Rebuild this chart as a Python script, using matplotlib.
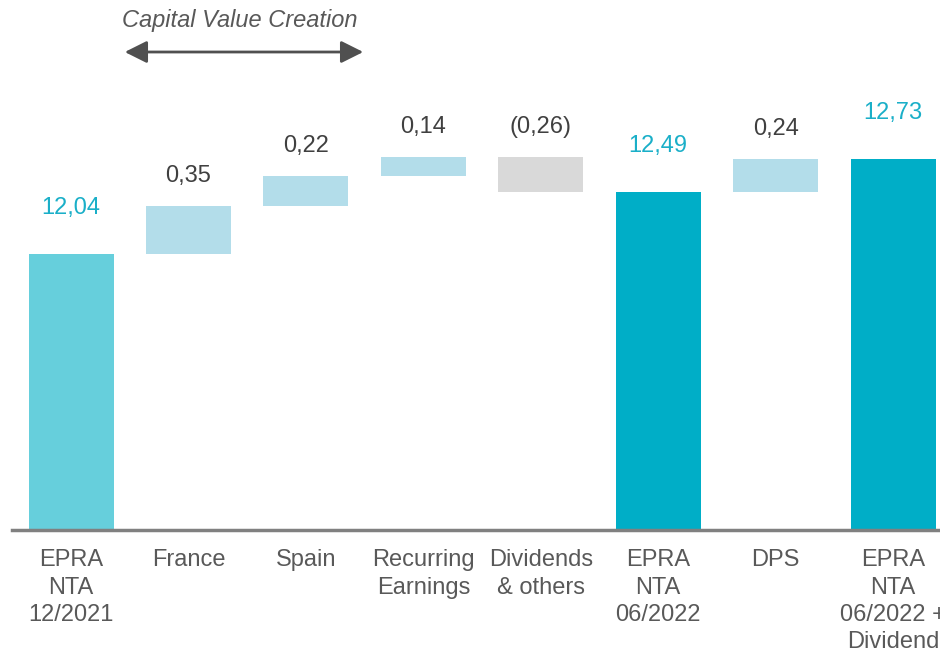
import matplotlib
matplotlib.use("Agg")
import matplotlib.pyplot as plt

plt.rcParams['font.family'] = ['Liberation Sans', 'DejaVu Sans']

categories = ["EPRA\nNTA\n12/2021", "France", "Spain", "Recurring\nEarnings",
              "Dividends\n& others", "EPRA\nNTA\n06/2022", "DPS",
              "EPRA\nNTA\n06/2022 +\nDividend"]
values = [12.04, 0.35, 0.22, 0.14, -0.26, 12.49, 0.24, 12.73]
kinds = ["total", "delta", "delta", "delta", "delta", "total", "delta", "total"]
value_labels = ["12,04", "0,35", "0,22", "0,14", "(0,26)", "12,49", "0,24", "12,73"]
bar_colors = ["#66CFDC", "#B3DDEA", "#B3DDEA", "#B3DDEA", "#D9D9D9",
              "#00AEC7", "#B3DDEA", "#00AEC7"]
y_min = 10.04
y_max = 13.886

fig = plt.figure(figsize=(9.4, 6.53), dpi=100)
ax = fig.add_axes([12/940, 123/653, 928/940, 530/653])

running = 0.0
bottoms, heights = [], []
for v, k in zip(values, kinds):
    if k == "total":
        bottoms.append(y_min)
        heights.append(v - y_min)
        running = v
    else:
        if v >= 0:
            bottoms.append(running)
            heights.append(v)
        else:
            bottoms.append(running + v)
            heights.append(-v)
        running += v

x = list(range(len(values)))
ax.bar(x, heights, bottom=bottoms, width=0.724, color=bar_colors, zorder=2)

for i, (b, h, k, lab) in enumerate(zip(bottoms, heights, kinds, value_labels)):
    top = b + h
    if k == "total":
        ax.annotate(lab, (i, top), xytext=(0, 35), textcoords="offset pixels",
                    ha="center", va="bottom", fontsize=17, color="#1AAFC8")
    else:
        ax.annotate(lab, (i, top), xytext=(0, 19), textcoords="offset pixels",
                    ha="center", va="bottom", fontsize=17, color="#404040")

ax.set_xlim(-0.503, 7.40)
ax.set_ylim(y_min, y_max)
ax.set_xticks(x)
ax.set_xticklabels(categories, fontsize=17, color="#595959", linespacing=1.3)
ax.tick_params(axis="x", length=0, pad=14)
ax.set_yticks([])
for s in ["top", "right", "left"]:
    ax.spines[s].set_visible(False)
ax.spines["bottom"].set_color("#808080")
ax.spines["bottom"].set_linewidth(2.5)
ax.spines["bottom"].set_zorder(3)

# Capital Value Creation annotation
fig.text(240/940, 1 - 20/653, "Capital Value Creation", ha="center", va="center",
         fontsize=17, style="italic", color="#595959")
fig.add_artist(matplotlib.patches.FancyArrowPatch(
    (122/940, 1 - 52/653), (366/940, 1 - 52/653), transform=fig.transFigure,
    arrowstyle="<|-|>,head_length=9,head_width=4.5", color="#505050", lw=2,
    mutation_scale=1.5))

fig.savefig("out.png", dpi=100)
